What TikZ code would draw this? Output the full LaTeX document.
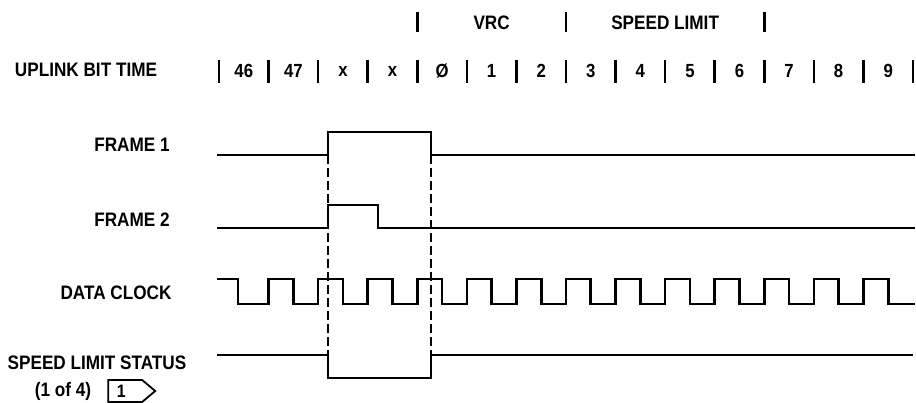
\documentclass[tikz,border=0pt]{standalone}
\usepackage{fontspec}
\setmainfont{Liberation Sans}[FakeStretch=0.88]
\usepackage{tikz}
\usetikzlibrary{shapes.symbols,positioning}
\tikzstyle{wave} = [line width=2.6pt, line join=miter]
\tikzstyle{guide} = [line width=2pt, dash pattern=on 9pt off 4pt]
\tikzstyle{bitbar} = [line width=2.6pt]
\tikzstyle{siglabel} = [font=\fontsize{19.5}{21}\selectfont\bfseries, inner sep=0pt]
\tikzstyle{bitlabel} = [font=\fontsize{19}{21}\selectfont\bfseries, inner sep=0pt]
\tikzstyle{notetag} = [draw, line width=1.8pt, signal, signal to=east, signal pointer angle=80, minimum width=47pt, minimum height=22pt, inner sep=0pt, font=\fontsize{18}{20}\selectfont\bfseries]

\begin{document}
\begin{tikzpicture}[x=1pt,y=-1pt]
\useasboundingbox (0,0) rectangle (916,403);

% field headings above the bit times
\foreach \i in {4,7,11}
  \draw[bitbar] ({219+49.57*\i},12) -- ({219+49.57*\i},32);
\node[siglabel] (vrc) at ({219+49.57*5.5},23) {VRC};
\node[siglabel] (spdlim) at ({219+49.57*9},23) {SPEED LIMIT};

% uplink bit times
\node[siglabel] (uplink) at (86,70) {UPLINK BIT TIME};
\foreach \i in {0,...,14}
  \draw[bitbar] ({219+49.57*\i},60) -- ({219+49.57*\i},83);
\foreach \lab [count=\i from 0] in {46,47,x,x,Ø,1,2,3,4,5,6,7,8,9}
  \node[bitlabel] (bit\i) at ({219+49.57*(\i+0.5)},71) {\lab};

% signal names
\node[siglabel] (frame1) at (132,145) {FRAME 1};
\node[siglabel] (frame2) at (132,220) {FRAME 2};
\node[siglabel] (clock) at (116,293) {DATA CLOCK};
\node[siglabel] (status) at (97,363) {SPEED LIMIT STATUS};
\node[siglabel] (statusof) at (63,391) {(1 of 4)};
\node[notetag, right=16pt of statusof.east, anchor=west] (tag) {\hspace*{-8pt}1};

% waveforms
\draw[wave] (217,155) -- (328,155) -- (328,132) -- (431,132) -- (431,155) -- (915,155);
\draw[wave] (217,228) -- (328,228) -- (328,205) -- (378,205) -- (378,228) -- (915,228);
\draw[wave] (217,279) -- (238,279) -- (238,304)
  \foreach \i in {1,...,13} {
    -- ({219+49.57*\i},304) -- ({219+49.57*\i},279)
    -- ({219+49.57*\i+24.8},279) -- ({219+49.57*\i+24.8},304)
  } -- (915,304);
\draw[wave] (217,355) -- (328,355) -- (328,378) -- (431,378) -- (431,355) -- (913,355);

% frame edges
\draw[guide] (328,155) -- (328,355);
\draw[guide] (431,155) -- (431,355);
\end{tikzpicture}
\end{document}
